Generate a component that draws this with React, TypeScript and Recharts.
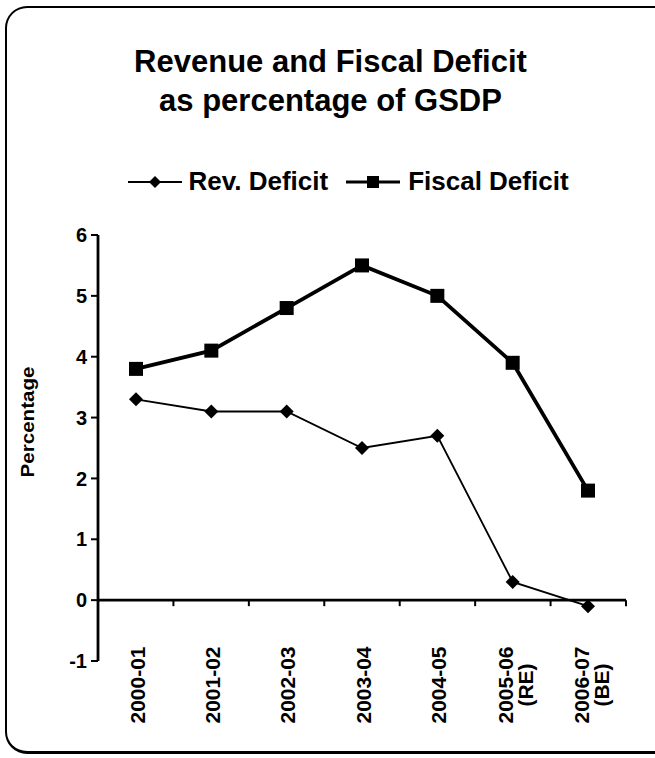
import React from 'react';
import { LineChart, Line, XAxis, YAxis, ReferenceLine, Legend } from 'recharts';

const categories = ['2000-01', '2001-02', '2002-03', '2003-04', '2004-05', '2005-06 (RE)', '2006-07 (BE)'];
const revDeficit = [3.3, 3.1, 3.1, 2.5, 2.7, 0.3, -0.1];
const fiscalDeficit = [3.8, 4.1, 4.8, 5.5, 5.0, 3.9, 1.8];
const yTicks = [-1, 0, 1, 2, 3, 4, 5, 6];

const data = categories.map((c, i) => ({ cat: c, rev: revDeficit[i], fiscal: fiscalDeficit[i] }));

const FONT = 'Arial, "Liberation Sans", Helvetica, sans-serif';

const Diamond = (props: any) => {
  const { cx, cy } = props;
  const r = 7;
  if (cx == null || cy == null) return null;
  return <polygon points={`${cx},${cy - r} ${cx + r},${cy} ${cx},${cy + r} ${cx - r},${cy}`} fill="#000" />;
};

const Square = (props: any) => {
  const { cx, cy } = props;
  const s = 14;
  if (cx == null || cy == null) return null;
  return <rect x={cx - s / 2} y={cy - s / 2} width={s} height={s} fill="#000" />;
};

const XTick = (props: any) => {
  const { x, y, payload } = props;
  const parts = String(payload.value).split(' ');
  const offsets = parts.length === 1 ? [1] : [-7, 13];
  return (
    <g transform={`translate(${x},${y + 16}) rotate(-90)`}>
      {parts.map((p, i) => (
        <text
          key={i}
          x={0}
          y={offsets[i]}
          textAnchor="middle"
          dominantBaseline="central"
          fontFamily={FONT}
          fontWeight="bold"
          fontSize={21}
          fill="#000"
        >
          {p}
        </text>
      ))}
    </g>
  );
};

const ZeroAxis = (props: any) => {
  const { x1, y1, x2, y2 } = props;
  const n = categories.length;
  const marks = [];
  for (let k = 1; k <= n; k++) {
    const xx = x1 + ((x2 - x1) * k) / n;
    marks.push(<line key={k} x1={xx} y1={y1} x2={xx} y2={y1 + 6} stroke="#000" strokeWidth={2} />);
  }
  return (
    <g>
      <line x1={x1} y1={y1} x2={x2} y2={y2} stroke="#000" strokeWidth={2.8} />
      {marks}
    </g>
  );
};

const PctLabel = (props: any) => {
  const vb = props.viewBox || { x: 0, y: 0, width: 0, height: 0 };
  const cx = vb.x + 28;
  const cy = vb.y + vb.height / 2 - 26;
  return (
    <text
      transform={`translate(${cx},${cy}) rotate(-90)`}
      textAnchor="middle"
      dominantBaseline="central"
      fontFamily={FONT}
      fontWeight="bold"
      fontSize={18}
      textLength={111}
      lengthAdjust="spacingAndGlyphs"
      fill="#000"
    >
      Percentage
    </text>
  );
};

const LegendContent = () => (
  <div
    style={{
      display: 'flex',
      justifyContent: 'center',
      alignItems: 'center',
      fontFamily: FONT,
      fontWeight: 'bold',
      fontSize: 26,
      color: '#000',
      paddingLeft: 42,
    }}
  >
    <svg width={54} height={20} style={{ marginRight: 6 }}>
      <line x1={0} y1={10} x2={54} y2={10} stroke="#000" strokeWidth={2} />
      <polygon points="27,4 33,10 27,16 21,10" fill="#000" />
    </svg>
    <span style={{ marginRight: 18 }}>Rev. Deficit</span>
    <svg width={54} height={20} style={{ marginRight: 8 }}>
      <line x1={0} y1={10} x2={54} y2={10} stroke="#000" strokeWidth={3} />
      <rect x={21} y={4} width={12} height={12} fill="#000" />
    </svg>
    <span>Fiscal Deficit</span>
  </div>
);

export default function App() {
  return (
    <div
      style={{
        position: 'absolute',
        left: 0,
        top: 0,
        width: 655,
        height: 758,
        overflow: 'hidden',
        background: '#fff',
      }}
    >
      <div
        style={{
          position: 'absolute',
          left: 5,
          top: 6,
          width: 700,
          height: 743,
          border: '2px solid #000',
          borderBottomWidth: 3,
          borderRadius: 22,
        }}
      />
      <div
        style={{
          position: 'absolute',
          left: 3,
          top: 42,
          width: 655,
          textAlign: 'center',
          fontFamily: FONT,
          fontWeight: 'bold',
          fontSize: 31,
          lineHeight: '39px',
          color: '#000',
        }}
      >
        Revenue and Fiscal Deficit
        <br />
        as percentage of GSDP
      </div>
      <div style={{ position: 'absolute', left: 0, top: 0 }}>
        <LineChart width={655} height={758} data={data} margin={{ top: 235, right: 29, bottom: 0, left: 0 }}>
          <XAxis
            dataKey="cat"
            height={97}
            axisLine={false}
            tickLine={false}
            interval={0}
            padding={{ left: 38, right: 38 }}
            tick={<XTick />}
          />
          <YAxis
            width={98}
            domain={[-1, 6]}
            ticks={yTicks}
            interval={0}
            axisLine={{ stroke: '#000', strokeWidth: 2.8 }}
            tickLine={{ stroke: '#000', strokeWidth: 2 }}
            tickSize={7}
            tickMargin={4}
            tick={{ fontFamily: FONT, fontWeight: 'bold', fontSize: 20, fill: '#000' }}
            label={<PctLabel />}
          />
          <ReferenceLine y={0} shape={<ZeroAxis />} ifOverflow="extendDomain" />
          <Legend
            layout="horizontal"
            verticalAlign="middle"
            align="center"
            wrapperStyle={{ top: 166, left: 0, width: 655 }}
            content={<LegendContent />}
          />
          <Line
            dataKey="fiscal"
            stroke="#000"
            strokeWidth={3.8}
            dot={<Square />}
            isAnimationActive={false}
            legendType="square"
          />
          <Line
            dataKey="rev"
            stroke="#000"
            strokeWidth={1.8}
            dot={<Diamond />}
            isAnimationActive={false}
            legendType="diamond"
          />
        </LineChart>
      </div>
    </div>
  );
}
